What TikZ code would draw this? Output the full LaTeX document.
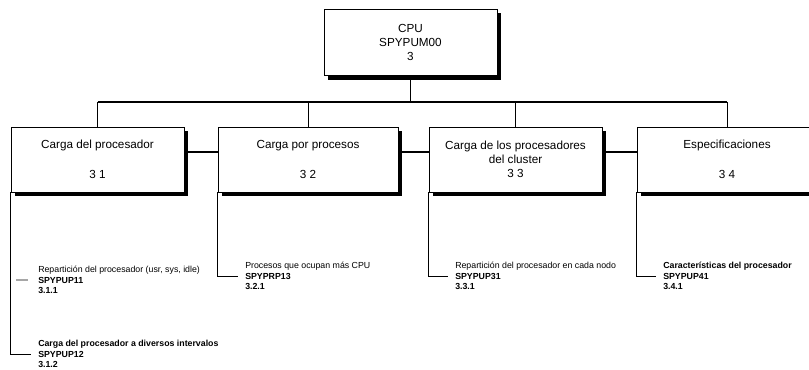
\documentclass[tikz,border=0pt]{standalone}
\usepackage{fontspec}
\setmainfont{Liberation Sans}
\usetikzlibrary{shadows}

\begin{document}
\begin{tikzpicture}[
  x=0.03cm, y=-0.03cm,
  unit/.style={
    rectangle, draw, line width=0.6pt, fill=white,
    minimum width=5.19cm, minimum height=1.95cm, inner sep=0pt,
    align=center, font=\fontsize{10}{12}\selectfont,
    drop shadow={shadow xshift=1.3mm, shadow yshift=-1.3mm, fill=black, opacity=1}
  },
  wideunit/.style={unit, minimum width=5.4cm},
  leaf/.style={anchor=west, align=left, inner xsep=6pt, inner ysep=0pt,
               font=\fontsize{7.5}{8.7}\selectfont},
  bus/.style={line width=1.2pt},
  feed/.style={line width=0.8pt},
  tie/.style={line width=2pt},
  twig/.style={line width=0.7pt},
  stub/.style={line width=1.2pt, draw=gray!70},
]
\useasboundingbox (0,0) rectangle (809,370);
\clip (0,0) rectangle (809,370);

%% top of the tree
\node[unit, minimum height=2cm] (cpu) at (410.5,42.5) {CPU\\SPYPUM00\\3};

%% second level
\node[unit]     (load)    at (97.5,159.5) {Carga del procesador\\[13.5pt]3 1};
\node[wideunit] (procs)   at (308,159.5)  {Carga por procesos\\[13.5pt]3 2};
\node[unit]     (cluster) at (515.5,159.5) {Carga de los procesadores\\del cluster\\3 3};
\node[wideunit] (specs)   at (727,159.5)  {Especificaciones\\[13.5pt]3 4};

%% bus from CPU down to the four units
\path (cpu.south) ++(0,26) coordinate (hub);
\draw[bus] (cpu.south) -- (hub);
\draw[bus] (load.north |- hub) -- (specs.north |- hub);
\foreach \u in {load,procs,cluster,specs}
  \draw[feed] (\u.north |- hub) -- (\u.north);

%% links between neighbouring units
\draw[tie] ([yshift=2.2mm]load.east)    -- ([yshift=2.2mm]procs.west);
\draw[tie] ([yshift=2.2mm]procs.east)   -- ([yshift=2.2mm]cluster.west);
\draw[tie] ([yshift=2.2mm]cluster.east) -- ([yshift=2.2mm]specs.west);

%% leaves
\node[leaf] (rep)     at (31,280)  {Repartición del procesador (usr, sys, idle)\\\textbf{SPYPUP11}\\\textbf{3.1.1}};
\node[leaf] (steps)   at (31,354)  {\textbf{Carga del procesador a diversos intervalos}\\\textbf{SPYPUP12}\\\textbf{3.1.2}};
\node[leaf] (top)     at (238,276) {Procesos que ocupan más CPU\\\textbf{SPYPRP13}\\\textbf{3.2.1}};
\node[leaf] (pernode) at (448,276) {Repartición del procesador en cada nodo\\\textbf{SPYPUP31}\\\textbf{3.3.1}};
\node[leaf] (cpuinfo) at (656,276) {\textbf{Características del procesador}\\\textbf{SPYPUP41}\\\textbf{3.4.1}};

\draw[twig] (load.south west)    |- (steps.west);
\draw[stub] ([xshift=-1mm]rep.west) -- ++(-12,0);
\draw[twig] (procs.south west)   |- (top.west);
\draw[twig] (cluster.south west) |- (pernode.west);
\draw[twig] (specs.south west)   |- (cpuinfo.west);

\end{tikzpicture}
\end{document}
